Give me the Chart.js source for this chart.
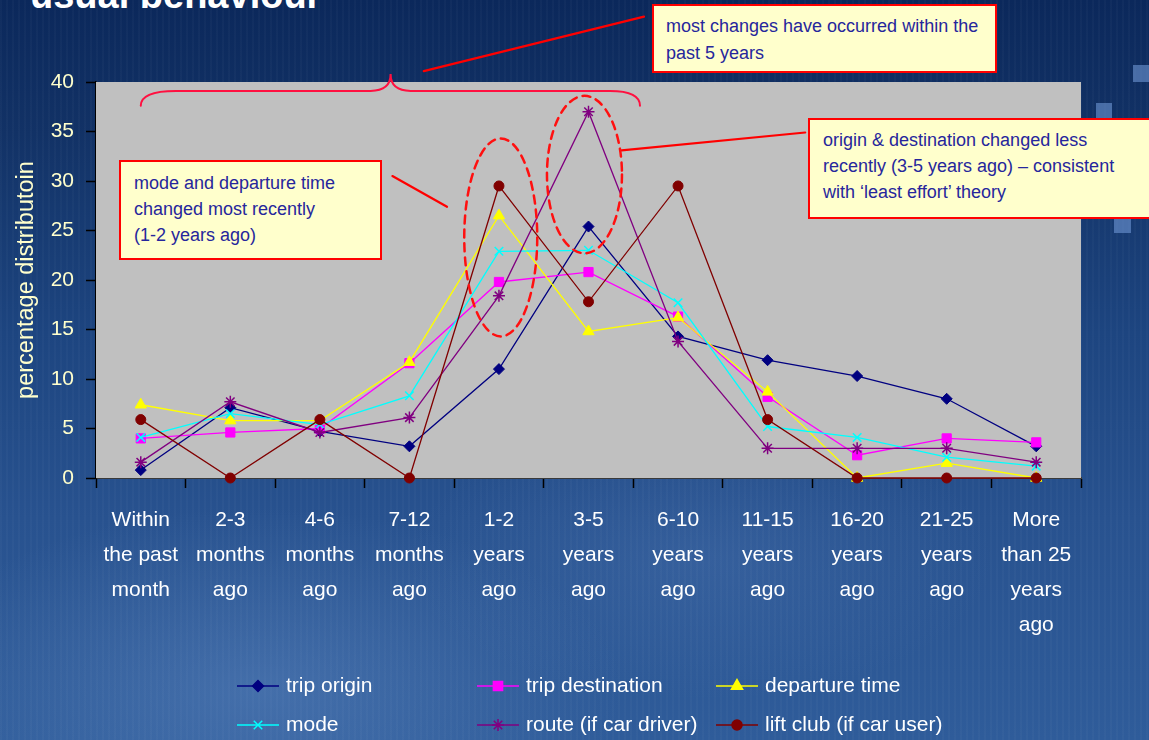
<!DOCTYPE html>
<html>
<head>
<meta charset="utf-8">
<script src="https://cdn.jsdelivr.net/npm/chart.js@4.4.1/dist/chart.umd.min.js"></script>
<style>
  html, body { margin: 0; padding: 0; width: 1149px; height: 740px; overflow: hidden; }
  body {
    position: relative;
    background:
      repeating-linear-gradient(to right, rgba(255,255,255,0.025) 0px, rgba(255,255,255,0.025) 2px, rgba(0,0,0,0) 2px, rgba(0,0,0,0) 6px),
      radial-gradient(ellipse 520px 260px at 260px 690px, rgba(110,150,205,0.35), rgba(110,150,205,0) 70%),
      radial-gradient(ellipse 420px 200px at 700px 560px, rgba(90,130,190,0.25), rgba(90,130,190,0) 70%),
      linear-gradient(to bottom, #0b285b 0%, #123266 18%, #1d4580 45%, #28528f 70%, #2f5c9a 100%);
  }
  .title {
    position: absolute; left: 30px; top: -24px;
    font: bold 38px "Liberation Sans", Arial, sans-serif; line-height: 38px;
    color: #ffffff; white-space: nowrap;
  }
  .sq { position: absolute; background: rgba(110,150,212,0.6); }
  #chart { position: absolute; left: 0; top: 0; }
  .note {
    position: absolute; box-sizing: border-box;
    background: #FFFFCC; border: 2px solid #FF0000;
    color: #26269C;
    font-family: "Liberation Sans", Arial, sans-serif;
    font-size: 18px; line-height: 26px; white-space: nowrap;
  }
</style>
</head>
<body>
<div class="title">usual behaviour</div>
<div class="sq" style="left:1133px;top:65px;width:16px;height:17px"></div>
<div class="sq" style="left:1096px;top:103px;width:16px;height:15px"></div>
<div class="sq" style="left:1114px;top:217px;width:17px;height:16px"></div>
<canvas id="chart" width="1149" height="740"></canvas>
<div class="note" style="left:652px;top:4px;width:345px;height:69px;padding:7px 0 0 12px;line-height:27px">most changes have occurred within the<br>past 5 years</div>
<div class="note" style="left:119px;top:160px;width:263px;height:100px;padding:8px 0 0 13px">mode and departure time<br>changed most recently<br>(1-2 years ago)</div>
<div class="note" style="left:808px;top:118px;width:360px;height:101px;padding:7px 0 0 13px">origin &amp; destination changed less<br>recently (3-5 years ago) – consistent<br>with ‘least effort’ theory</div>

<script>
// Time since the last change in each aspect of usual travel behaviour
const categories = [
  ["Within", "the past", "month"],
  ["2-3", "months", "ago"],
  ["4-6", "months", "ago"],
  ["7-12", "months", "ago"],
  ["1-2", "years", "ago"],
  ["3-5", "years", "ago"],
  ["6-10", "years", "ago"],
  ["11-15", "years", "ago"],
  ["16-20", "years", "ago"],
  ["21-25", "years", "ago"],
  ["More", "than 25", "years", "ago"]
];

const seriesNames = [
  "trip origin", "trip destination", "departure time",
  "mode", "route (if car driver)", "lift club (if car user)"
];

const tripOrigin      = [0.8, 7.1, 4.7, 3.2, 11.0, 25.4, 14.3, 11.9, 10.3, 8.0, 3.2];
const tripDestination = [4.0, 4.6, 5.0, 11.6, 19.8, 20.8, 16.3, 8.2, 2.3, 4.0, 3.6];
const departureTime   = [7.4, 5.8, 5.8, 11.7, 26.5, 14.8, 16.2, 8.7, 0.0, 1.5, 0.0];
const modeChange      = [4.1, 6.5, 5.4, 8.3, 22.9, 23.0, 17.7, 5.2, 4.1, 2.1, 1.2];
const routeChange     = [1.6, 7.7, 4.6, 6.1, 18.4, 37.0, 13.8, 3.0, 3.0, 3.0, 1.6];
const liftClub        = [5.9, 0.0, 5.9, 0.0, 29.5, 17.8, 29.5, 5.9, 0.0, 0.0, 0.0];

const yTicks = [0, 5, 10, 15, 20, 25, 30, 35, 40];

const FONT = '"Liberation Sans", Arial, sans-serif';

const styles = [
  { color: "#000080", pointStyle: "rectRot",  radius: 5.5 },
  { color: "#FF00FF", pointStyle: "rect",     radius: 6.5 },
  { color: "#FFFF00", pointStyle: "triangle", radius: 6.5 },
  { color: "#00FFFF", pointStyle: "crossRot", radius: 6 },
  { color: "#800080", pointStyle: "star",     radius: 6 },
  { color: "#800000", pointStyle: "circle",   radius: 5 }
];

const seriesValues = [tripOrigin, tripDestination, departureTime, modeChange, routeChange, liftClub];

const datasets = seriesValues.map((vals, i) => ({
  label: seriesNames[i],
  data: vals,
  borderColor: styles[i].color,
  backgroundColor: styles[i].color,
  pointBackgroundColor: styles[i].color,
  pointBorderColor: styles[i].color,
  pointStyle: styles[i].pointStyle,
  pointRadius: styles[i].radius,
  pointHoverRadius: styles[i].radius,
  pointBorderWidth: (styles[i].pointStyle === "crossRot" || styles[i].pointStyle === "star") ? 1.5 : 1,
  borderWidth: 1.3,
  tension: 0,
  fill: false,
  clip: false,
  order: seriesValues.length - i
}));

// Grey plotting area painted behind the series
const plotBackground = {
  id: "plotBackground",
  beforeDatasetsDraw(chart) {
    const a = chart.chartArea;
    chart.ctx.save();
    chart.ctx.fillStyle = "#C0C0C0";
    chart.ctx.fillRect(a.left, a.top, a.right - a.left, a.bottom - a.top);
    chart.ctx.restore();
  }
};

// Braces, dashed ellipses and leader lines for the notes
const notesLayer = {
  id: "notesLayer",
  afterDraw(chart) {
    const { ctx } = chart;
    const x = chart.scales.x, y = chart.scales.y;
    const px = v => x.getPixelForValue(v);
    const py = v => y.getPixelForValue(v);
    ctx.save();
    ctx.lineCap = "round";

    // brace spanning the recent periods
    const xL = px(0), xT = px(2.79), xR = px(5.575);
    const yEnd = py(37.6), yMid = py(39.1), yTip = py(40.8);
    ctx.strokeStyle = "#FF1040";
    ctx.lineWidth = 2;
    ctx.beginPath();
    ctx.moveTo(xL, yEnd);
    ctx.quadraticCurveTo(xL, yMid, xL + 35, yMid);
    ctx.lineTo(xT - 20, yMid);
    ctx.quadraticCurveTo(xT, yMid, xT, yTip);
    ctx.quadraticCurveTo(xT, yMid, xT + 20, yMid);
    ctx.lineTo(xR - 30, yMid);
    ctx.quadraticCurveTo(xR, yMid, xR, yEnd);
    ctx.stroke();

    // leader lines
    ctx.strokeStyle = "#FF0000";
    ctx.lineWidth = 2.2;
    const line = (a, b, c, d) => {
      ctx.beginPath(); ctx.moveTo(px(a), py(b)); ctx.lineTo(px(c), py(d)); ctx.stroke();
    };
    line(3.16, 41.1, 5.62, 46.6);
    line(2.81, 30.5, 3.42, 27.4);
    line(5.37, 33.1, 7.42, 34.9);

    // dashed ellipses around the peaks
    ctx.lineWidth = 2.5;
    ctx.setLineDash([8, 6]);
    ctx.strokeStyle = "#FF1010";
    const ell = (cx, cy, rx, half) => {
      const top = py(cy + half), bot = py(cy - half);
      ctx.beginPath();
      ctx.ellipse(px(cx), (top + bot) / 2, rx, (bot - top) / 2, 0, 0, Math.PI * 2);
      ctx.stroke();
    };
    ell(4.02, 24.3, 36.5, 10.0);
    ell(4.955, 30.65, 37.5, 7.95);
    ctx.restore();
  }
};

// Three-column legend under the axis
const gridLegend = {
  id: "gridLegend",
  afterDraw(chart) {
    const { ctx } = chart;
    const colX = [237, 477, 716];
    const rowY = [686, 725];
    ctx.save();
    chart.data.datasets.forEach((ds, i) => {
      const x0 = colX[i % 3], yy = rowY[Math.floor(i / 3)];
      ctx.strokeStyle = ds.borderColor;
      ctx.fillStyle = ds.borderColor;
      ctx.lineWidth = 1.5;
      ctx.setLineDash([]);
      ctx.beginPath(); ctx.moveTo(x0, yy); ctx.lineTo(x0 + 42, yy); ctx.stroke();
      Chart.helpers.drawPoint(ctx, {
        pointStyle: ds.pointStyle, radius: ds.pointRadius, rotation: 0,
        borderWidth: ds.pointBorderWidth
      }, x0 + 21, yy);
      ctx.fillStyle = "#FFFFFF";
      ctx.font = "21px " + FONT;
      ctx.textBaseline = "middle";
      ctx.textAlign = "left";
      ctx.fillText(ds.label, x0 + 49, yy);
    });
    ctx.restore();
  }
};

new Chart(document.getElementById("chart"), {
  type: "line",
  data: { labels: categories, datasets },
  plugins: [plotBackground, notesLayer, gridLegend],
  options: {
    responsive: false,
    animation: false,
    events: [],
    layout: { padding: { top: 82, right: 68, left: 0, bottom: 92 } },
    plugins: {
      legend: { display: false },
      tooltip: { enabled: false },
      title: { display: false }
    },
    scales: {
      x: {
        offset: true,
        afterFit(scale) { scale.height = 170; },
        grid: { offset: true, drawOnChartArea: false, tickLength: 10, tickColor: "#000000", tickWidth: 1.5 },
        border: { color: "#3a3a3a", width: 2 },
        ticks: {
          color: "#FFFFFF", maxRotation: 0, autoSkip: false, padding: 15,
          font: { family: FONT, size: 21, lineHeight: 35 / 21 }
        }
      },
      y: {
        min: 0, max: 40,
        afterFit(scale) { scale.width = 96; },
        afterBuildTicks(scale) { scale.ticks = yTicks.map(v => ({ value: v })); },
        grid: { drawOnChartArea: false, tickLength: 10, tickColor: "#000000", tickWidth: 1.5 },
        border: { color: "#000000", width: 1.5 },
        ticks: {
          color: "#FFFFCC", padding: 12,
          font: { family: FONT, size: 21 }
        },
        title: {
          display: true, text: "percentage distributoin", color: "#FFFFCC",
          font: { family: FONT, size: 23.5 }, padding: { top: 12, bottom: 0 }
        }
      }
    }
  }
});
</script>
</body>
</html>
